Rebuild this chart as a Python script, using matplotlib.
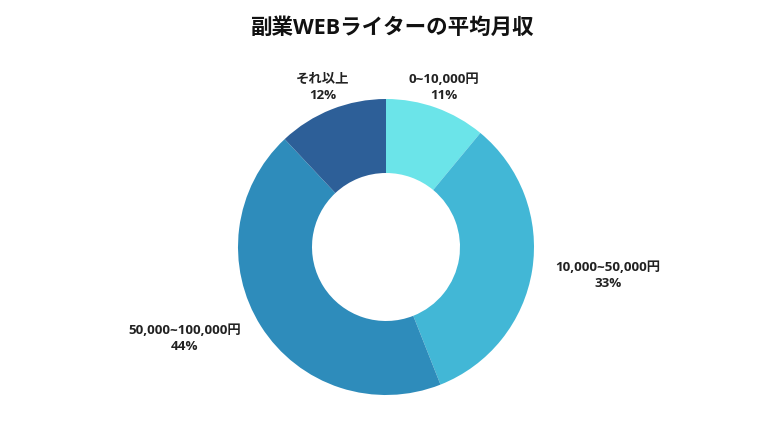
import matplotlib
matplotlib.use("Agg")
import matplotlib.pyplot as plt
import numpy as np

plt.rcParams['font.family'] = ['Open Sans', 'Noto Sans CJK JP', 'DejaVu Sans']

title = "副業WEBライターの平均月収"
categories = ["0~10,000円", "10,000~50,000円", "50,000~100,000円", "それ以上"]
values = [11, 33, 44, 12]
colors = ["#6BE4E9", "#42B7D6", "#2E8CBB", "#2D5F98"]
# label anchor offsets (in units of the outer radius) relative to donut centre
label_pos = [(0.39, 1.08), (1.50, -0.19), (-1.36, -0.62), (-0.43, 1.08)]

fig = plt.figure(figsize=(7.6, 4.28), dpi=100)
fig.patch.set_facecolor("white")
ax = fig.add_axes([(386 - 148) / 760, (181 - 148) / 428, 296 / 760, 296 / 428])

wedges, _ = ax.pie(values, colors=colors, startangle=90, counterclock=False,
                   radius=1.0, wedgeprops=dict(width=0.5, linewidth=0))
ax.set_xlim(-1, 1)
ax.set_ylim(-1, 1)
ax.set_aspect("equal")
ax.axis("off")

for cat, v, (x, y) in zip(categories, values, label_pos):
    ax.text(x, y, f"{cat}\n{v}%", ha="center", va="center", fontsize=9.6,
            fontweight="bold", color="#222222", linespacing=1.3)

fig.text(392 / 760, 1 - 28 / 428, title, ha="center", va="center",
         fontsize=15.5, fontweight="bold", color="#111111")

fig.savefig("out.png", dpi=100)
